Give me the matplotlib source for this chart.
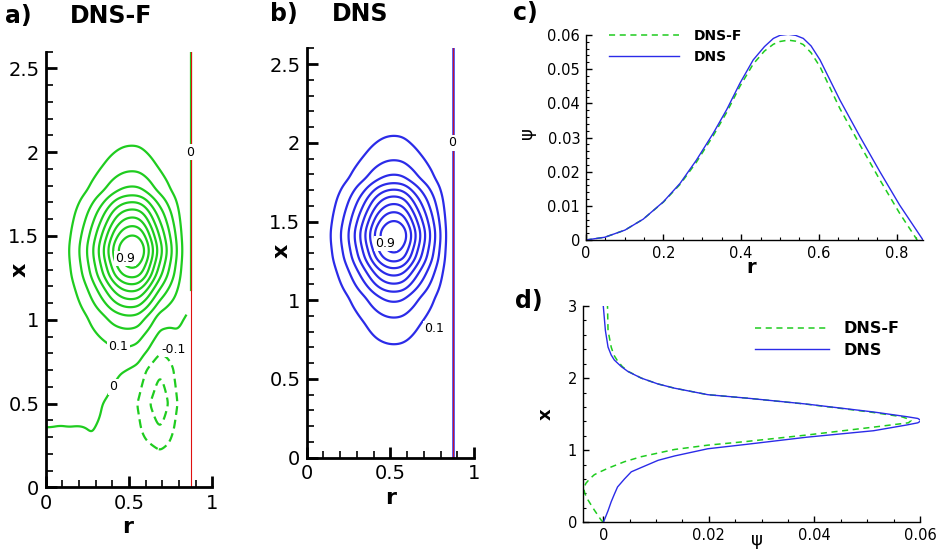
import numpy as np
import matplotlib
matplotlib.use("Agg")
import matplotlib.pyplot as plt
from matplotlib.ticker import MultipleLocator, FuncFormatter

plt.rcParams['font.family'] = ['DejaVu Sans']

# panel c: psi along r through the vortex centre
r_dns = [0, 0.049, 0.101, 0.148, 0.2, 0.243, 0.285, 0.328, 0.363, 0.397, 0.431, 0.46,
         0.483, 0.5, 0.521, 0.54, 0.56, 0.58, 0.603, 0.654, 0.706, 0.757, 0.808, 0.868]
psi_r_dns = [0, 0.0008, 0.0029, 0.0061, 0.0112, 0.0166, 0.0234, 0.0312, 0.0382, 0.0459, 0.0527, 0.0566,
             0.059, 0.0599, 0.0602, 0.0599, 0.059, 0.0568, 0.0527, 0.041, 0.0302, 0.020, 0.0102, 0]
r_dnsf = [0, 0.049, 0.101, 0.148, 0.2, 0.243, 0.285, 0.328, 0.363, 0.397, 0.431, 0.46,
          0.483, 0.5, 0.521, 0.54, 0.56, 0.58, 0.603, 0.654, 0.706, 0.757, 0.808, 0.853]
psi_r_dnsf = [0, 0.0008, 0.0029, 0.0061, 0.0111, 0.0163, 0.0228, 0.0305, 0.0374, 0.0450, 0.0515, 0.0553,
              0.0573, 0.0581, 0.0585, 0.0582, 0.0572, 0.0548, 0.0507, 0.0385, 0.0278, 0.0176, 0.0078, 0]

# panel d: psi along x through the vortex centre
x_dns = [0, 0.05, 0.16, 0.285, 0.39, 0.49, 0.6, 0.7, 0.76, 0.86, 0.92, 1.02, 1.08, 1.18, 1.27, 1.35,
         1.38, 1.41, 1.44, 1.465, 1.53, 1.64, 1.72, 1.77, 1.86, 1.92, 2.0, 2.09, 2.16, 2.25, 2.32,
         2.43, 2.66, 3.0]
psi_x_dns = [0, 0.0003, 0.0009, 0.0015, 0.0021, 0.0027, 0.004, 0.0053, 0.0072, 0.0104, 0.0135, 0.0198,
             0.027, 0.0385, 0.0512, 0.0575, 0.0596, 0.0602, 0.0596, 0.0575, 0.0512, 0.0385, 0.0275,
             0.0198, 0.0135, 0.0103, 0.0072, 0.0047, 0.0034, 0.0021, 0.0015, 0.0009, 0.0004, 0.0]
x_dnsf = [0, 0.03, 0.17, 0.31, 0.4, 0.47, 0.54, 0.6, 0.66, 0.7, 0.75, 0.84, 0.91, 1.01, 1.07, 1.12,
          1.21, 1.32, 1.38, 1.41, 1.44, 1.465, 1.53, 1.64, 1.72, 1.77, 1.86, 1.92, 2.0, 2.09, 2.16,
          2.25, 2.32, 2.43, 2.66, 3.0]
psi_x_dnsf = [0, -0.0004, -0.0017, -0.0029, -0.0035, -0.0037, -0.0033, -0.0026, -0.0017, -0.0006,
              0.0009, 0.004, 0.0072, 0.0135, 0.0198, 0.027, 0.0385, 0.0512, 0.0578, 0.0583, 0.0575,
              0.0565, 0.0505, 0.0383, 0.0275, 0.0198, 0.0135, 0.0103, 0.0072, 0.0048, 0.0036,
              0.0026, 0.002, 0.0015, 0.0009, 0.0008]

# DNS-F reversed-flow bubble next to the wall (estimated from panel a)
bub_r = [0.0, 0.28, 0.326, 0.376, 0.446, 0.526, 0.556, 0.586, 0.63, 0.686, 0.736, 0.786, 0.82, 0.85, 0.87]
bub_r_w = [0, 0, 0.05, 0.13, 0.31, 0.44, 0.5, 0.68, 0.81, 1.0, 0.74, 0.38, 0.24, 0.12, 0.05]
bub_x = [0, 0.1, 0.227, 0.26, 0.35, 0.5, 0.65, 0.71, 0.76, 0.82, 0.91, 1.0, 1.1, 1.2, 1.4, 2.6]
bub_x_w = [0.15, 0.2, 0.38, 0.5, 0.73, 1.0, 0.85, 0.8, 0.68, 0.56, 0.48, 0.42, 0.33, 0.2, 0.05, 0]
bub_amp = 0.017
# weak reversed flow near the axis at the bottom
low_r = [0, 0.05, 0.1, 0.15, 0.2, 0.25, 0.3, 0.35, 0.42, 0.5, 0.87]
low_r_w = [0, 0.013, 0.048, 0.1, 0.185, 0.27, 0.3, 0.2, 0.05, 0, 0]
low_x = [0, 0.2, 0.36, 0.5, 0.7, 0.9, 2.6]
low_x_w = [1.0, 0.9, 0.67, 0.4, 0.1, 0, 0]
low_amp = 0.003

R_WALL = 0.873
ZERO_MEET = 1.18
pos_levels = [0.1, 0.2, 0.3, 0.4, 0.5, 0.6, 0.7, 0.8, 0.9]
neg_levels = [-0.2, -0.1]

GREEN = '#1fcc1f'
BLUE = '#2b2be8'
RED = '#e01010'


def prof(q, xs, ys, width=0.0):
    y = np.interp(q, xs, ys)
    if width > 0:
        n = max(int(width / (q[1] - q[0])), 1) | 1
        k = np.ones(n) / n
        for _ in range(2):
            y = np.convolve(np.pad(y, n // 2, mode='edge'), k, mode='valid')
    return y


W, H = 939, 556
fig = plt.figure(figsize=(W / 100, H / 100), dpi=100)


def box(l, r, t, b):
    return [l / W, 1 - b / H, (r - l) / W, (b - t) / H]


ax_a = fig.add_axes(box(45.7, 212.3, 51.7, 487.3))
ax_b = fig.add_axes(box(306.7, 474, 48.3, 457.7))
ax_c = fig.add_axes(box(585.7, 923, 35, 240))
ax_d = fig.add_axes(box(582.7, 920, 306, 522.3))

fmt = FuncFormatter(lambda v, p: '%g' % round(v, 4))


def style_field(ax):
    for s in ['top', 'right']:
        ax.spines[s].set_visible(False)
    for s in ['left', 'bottom']:
        ax.spines[s].set_linewidth(2)
    ax.set_xlim(0, 1)
    ax.set_ylim(0, 2.6)
    ax.xaxis.set_major_locator(MultipleLocator(0.5))
    ax.xaxis.set_minor_locator(MultipleLocator(0.1))
    ax.yaxis.set_major_locator(MultipleLocator(0.5))
    ax.yaxis.set_minor_locator(MultipleLocator(0.1))
    ax.xaxis.set_major_formatter(fmt)
    ax.yaxis.set_major_formatter(fmt)
    ax.tick_params(which='major', direction='in', length=8, width=2, labelsize=14, pad=4.5)
    ax.tick_params(which='minor', direction='in', length=5, width=1.2)
    ax.set_xlabel('r', fontsize=16, fontweight='bold')
    ax.set_ylabel('x', fontsize=16, fontweight='bold')


def clab(ax, txt, r, x):
    ax.text(r, x, txt, fontsize=9, ha='center', va='center', zorder=5,
            bbox=dict(boxstyle='square,pad=0.1', fc='white', ec='none'))


# field for DNS (panel b)
rg = np.linspace(0.004, 0.866, 400)
xg = np.linspace(0, 2.6, 600)
f_r = prof(rg, r_dns, psi_r_dns, 0.05)
g_x = prof(xg, x_dns, psi_x_dns, 0.05)
field_b = np.outer(g_x, f_r)
field_b = field_b / field_b.max()

# field for DNS-F (panel a)
rgf = np.linspace(0.004, 0.845, 400)
ff_r = prof(rgf, r_dnsf, psi_r_dnsf, 0.05)
gf_x = prof(xg, x_dns, psi_x_dns, 0.05) / max(psi_x_dns)
field_a = np.outer(gf_x, ff_r)
field_a -= bub_amp * np.outer(prof(xg, bub_x, bub_x_w, 0.04), prof(rgf, bub_r, bub_r_w, 0.03))
field_a -= low_amp * np.outer(prof(xg, low_x, low_x_w, 0.04), prof(rgf, low_r, low_r_w, 0.05))
field_a = field_a / field_a.max()

# panel a
style_field(ax_a)
ax_a.xaxis.set_label_coords(0.491, -0.068)
ax_a.yaxis.set_label_coords(-0.094, 0.5)
ax_a.contour(rgf, xg, field_a, levels=[0] + pos_levels, colors=GREEN, linewidths=1.6)
ax_a.contour(rgf, xg, field_a, levels=neg_levels, colors=GREEN, linewidths=1.6,
             linestyles=[(0, (4, 2.2))])
ax_a.plot([R_WALL, R_WALL], [ZERO_MEET, 2.6], color=GREEN, lw=1.6)
ax_a.axvline(R_WALL, color=RED, lw=0.8)
clab(ax_a, '0.9', 0.476, 1.365)
clab(ax_a, '0.1', 0.436, 0.838)
clab(ax_a, '-0.1', 0.77, 0.825)
clab(ax_a, '0', 0.406, 0.6)
clab(ax_a, '0', 0.868, 2.0)

# panel b
style_field(ax_b)
ax_b.xaxis.set_label_coords(0.5, -0.075)
ax_b.yaxis.set_label_coords(-0.088, 0.505)
ax_b.contour(rg, xg, field_b, levels=pos_levels, colors=BLUE, linewidths=1.6)
ax_b.axvline(R_WALL, color=BLUE, lw=1.8)
ax_b.axvline(R_WALL, color=RED, lw=0.6)
clab(ax_b, '0.9', 0.47, 1.36)
clab(ax_b, '0.1', 0.76, 0.82)
clab(ax_b, '0', 0.868, 2.0)

fig.text(5 / W, 1 - 16 / H, 'a)', fontsize=17, fontweight='bold', va='center')
fig.text(70 / W, 1 - 16 / H, 'DNS-F', fontsize=17, fontweight='bold', va='center')
fig.text(270 / W, 1 - 14 / H, 'b)', fontsize=17, fontweight='bold', va='center')
fig.text(332 / W, 1 - 14 / H, 'DNS', fontsize=17, fontweight='bold', va='center')
fig.text(513 / W, 1 - 13 / H, 'c)', fontsize=17, fontweight='bold', va='center')
fig.text(515 / W, 1 - 301 / H, 'd)', fontsize=17, fontweight='bold', va='center')


def style_line(ax):
    for s in ['top', 'right']:
        ax.spines[s].set_visible(False)
    for s in ['left', 'bottom']:
        ax.spines[s].set_linewidth(1)
    ax.tick_params(which='major', direction='in', length=4.5, width=1, labelsize=10.5, pad=4)
    ax.tick_params(which='minor', direction='in', length=2.5, width=0.8)
    ax.xaxis.set_major_formatter(fmt)
    ax.yaxis.set_major_formatter(fmt)


# panel c
style_line(ax_c)
ax_c.plot(r_dnsf, psi_r_dnsf, color=GREEN, lw=1.1, ls=(0, (4, 3)), label='DNS-F')
ax_c.plot(r_dns, psi_r_dns, color=BLUE, lw=1.0, label='DNS')
ax_c.set_xlim(0, 0.868)
ax_c.set_ylim(0, 0.06)
ax_c.xaxis.set_major_locator(MultipleLocator(0.2))
ax_c.xaxis.set_minor_locator(MultipleLocator(0.05))
ax_c.yaxis.set_major_locator(MultipleLocator(0.01))
ax_c.yaxis.set_minor_locator(MultipleLocator(0.002))
ax_c.set_xlabel('r', fontsize=14, fontweight='bold')
ax_c.xaxis.set_label_coords(0.492, -0.088)
ax_c.set_ylabel('\u03c8', fontsize=13)
ax_c.yaxis.set_label_coords(-0.147, 0.52)
ax_c.legend(loc='upper left', bbox_to_anchor=(0.07, 1.03), frameon=False, borderpad=0,
            borderaxespad=0, handlelength=5.0, handletextpad=1.1, labelspacing=0.5,
            prop={'weight': 'bold', 'size': 10})

# panel d
style_line(ax_d)
ax_d.plot(psi_x_dnsf, x_dnsf, color=GREEN, lw=1.1, ls=(0, (4, 3)), label='DNS-F')
ax_d.plot(psi_x_dns, x_dns, color=BLUE, lw=1.0, label='DNS')
ax_d.set_xlim(-0.0039, 0.06)
ax_d.set_ylim(0, 3)
ax_d.xaxis.set_major_locator(MultipleLocator(0.02))
ax_d.xaxis.set_minor_locator(MultipleLocator(0.005))
ax_d.yaxis.set_major_locator(MultipleLocator(1))
ax_d.yaxis.set_minor_locator(MultipleLocator(0.2))
ax_d.set_xlabel('\u03c8', fontsize=13)
ax_d.xaxis.set_label_coords((757 - 582.7) / 337.3, -0.042)
ax_d.set_ylabel('x', fontsize=13, fontweight='bold')
ax_d.yaxis.set_label_coords(-0.082, 0.5)
ax_d.legend(loc='upper left', bbox_to_anchor=(0.511, 0.93), frameon=False, borderpad=0,
            borderaxespad=0, handlelength=4.6, handletextpad=0.95, labelspacing=0.4,
            prop={'weight': 'bold', 'size': 11.5})

fig.savefig('out.png', dpi=100)
